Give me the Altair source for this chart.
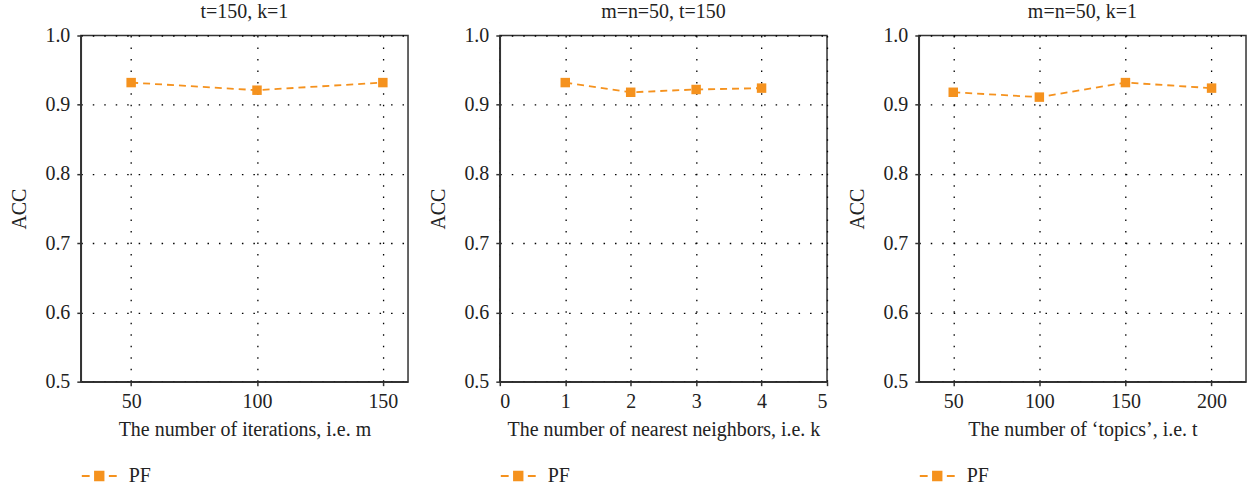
import altair as alt
import pandas as pd

series_name = "PF"
orange = "#F5921E"

p1_x = [50, 100, 150]
p1_y = [0.932, 0.921, 0.932]
p2_x = [1, 2, 3, 4]
p2_y = [0.932, 0.918, 0.922, 0.924]
p3_x = [50, 100, 150, 200]
p3_y = [0.918, 0.911, 0.932, 0.924]

titles = ["t=150, k=1", "m=n=50, t=150", "m=n=50, k=1"]
x_titles = [
    "The number of iterations, i.e. m",
    "The number of nearest neighbors, i.e. k",
    "The number of \u2018topics\u2019, i.e. t",
]
x_domains = [[30, 160], [0, 5], [30, 220]]
x_ticks = [[50, 100, 150], [0, 1, 2, 3, 4, 5], [50, 100, 150, 200]]
y_ticks = [0.5, 0.6, 0.7, 0.8, 0.9, 1.0]

FONT = "Liberation Serif"
FS = 20
W, H = 328, 347

legend_path = "M-1,0H-0.55M0.55,0H1M-0.24,-0.24H0.24V0.24H-0.24Z"


def panel(xs, ys, title, xtitle, xdom, xt):
    df = pd.DataFrame({"x": xs, "y": ys, "series": [series_name] * len(xs)})
    base = alt.Chart(df)
    xenc = alt.X(
        "x:Q",
        scale=alt.Scale(domain=xdom, nice=False, zero=False),
        axis=alt.Axis(values=xt, title=xtitle, format="d"),
    )
    yenc = alt.Y(
        "y:Q",
        scale=alt.Scale(domain=[0.5, 1.0], nice=False, zero=False),
        axis=alt.Axis(values=y_ticks, title="ACC", format=".1f"),
    )
    color = alt.Color(
        "series:N",
        scale=alt.Scale(domain=[series_name], range=[orange]),
        legend=alt.Legend(
            title=None,
            orient="none",
            legendX=0,
            legendY=423,
            symbolType=legend_path,
            symbolSize=1225,
            symbolStrokeWidth=2,
            symbolFillColor=orange,
            symbolStrokeColor=orange,
            labelFont=FONT,
            labelFontSize=FS,
            labelColor="#222",
            labelOffset=11,
            padding=0,
        ),
    )
    line = base.mark_line(strokeDash=[7, 5], strokeWidth=1.8, color=orange).encode(
        x=xenc, y=yenc, color=color
    )
    pts = base.mark_point(shape="square", filled=True, size=90, opacity=1, color=orange).encode(
        x=xenc, y=yenc
    )
    return (line + pts).properties(
        width=W, height=H, title=alt.TitleParams(title, offset=4)
    )


charts = [
    panel(p1_x, p1_y, titles[0], x_titles[0], x_domains[0], x_ticks[0]),
    panel(p2_x, p2_y, titles[1], x_titles[1], x_domains[1], x_ticks[1]),
    panel(p3_x, p3_y, titles[2], x_titles[2], x_domains[2], x_ticks[2]),
]

chart = (
    alt.hconcat(*charts, spacing=92, bounds="flush")
    .resolve_scale(color="independent")
    .resolve_legend(color="independent")
    .properties(padding={"left": 9, "top": 0, "right": 4, "bottom": 0}, background="white")
    .configure_view(stroke="#333", strokeWidth=1.5)
    .configure_axis(
        labelFont=FONT,
        labelFontSize=FS,
        labelColor="#222",
        titleFont=FONT,
        titleFontSize=FS,
        titleFontWeight="normal",
        titleColor="#222",
        domainColor="#333",
        domainWidth=1.5,
        tickColor="#333",
        tickWidth=1.5,
        tickSize=4,
        grid=True,
        gridColor="#000",
        gridDash=[1.5, 10],
        gridWidth=1.3,
        gridOpacity=1,
    )
    .configure_axisX(labelPadding=6, titlePadding=8)
    .configure_axisY(labelPadding=7, titlePadding=15)
    .configure_title(font=FONT, fontSize=FS, fontWeight="normal", color="#222", anchor="middle")
)

chart.save("out.html", embed_options={"renderer": "svg", "actions": False})
